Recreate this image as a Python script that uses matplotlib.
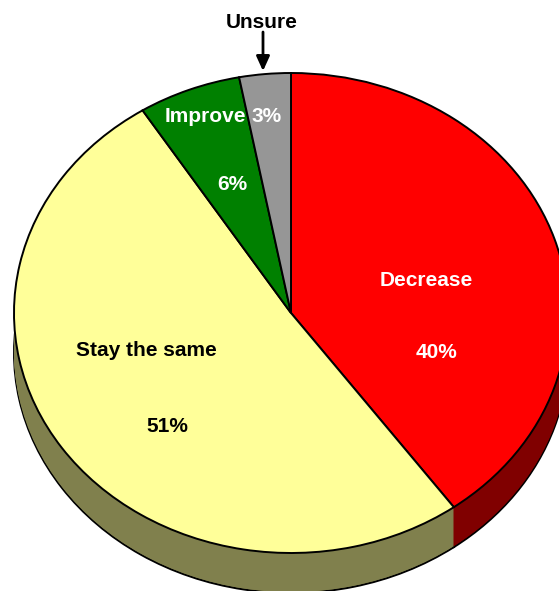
import matplotlib
matplotlib.use("Agg")
import matplotlib.pyplot as plt

labels = ["Decrease", "Stay the same", "Improve", "Unsure"]
values = [40, 51, 6, 3]
pcts = ["40%", "51%", "6%", "3%"]
top_colors = ["#ff0000", "#ffff99", "#008000", "#969696"]
side_colors = ["#800000", "#80804d", "#004000", "#4b4b4b"]

W, H = 559, 591
cx, cy = 291, 313
rx, ry = 277, 240
depth = 40

plt.rcParams['font.family'] = ['Liberation Sans']
fig = plt.figure(figsize=(W / 100, H / 100), dpi=100)
ax = fig.add_axes([0, 0, 1, 1])

# side of the pie, bottom rim first, then stacked slices over it
d = depth / ry
ax.pie(values, colors=side_colors, startangle=90, counterclock=False, radius=1,
       center=(0, -d), wedgeprops={'edgecolor': 'black', 'linewidth': 1.4})
for i in range(depth - 1, -1, -1):
    ax.pie(values, colors=side_colors, startangle=90, counterclock=False, radius=1,
           center=(0, -i / ry), wedgeprops={'linewidth': 0})

# top
ax.pie(values, colors=top_colors, startangle=90, counterclock=False, radius=1,
       center=(0, 0), wedgeprops={'edgecolor': 'black', 'linewidth': 1.4})

ax.set_aspect('auto')
ax.set_xlim(-cx / rx, (W - cx) / rx)
ax.set_ylim(-(H - cy) / ry, cy / ry)
ax.axis('off')

def put(x, y, s, color):
    fig.text(x / W, 1 - y / H, s, color=color, fontsize=15, fontweight='bold',
             ha='center', va='center')

put(426, 281, labels[0], 'white')
put(437, 352, pcts[0], 'white')
put(146, 350, labels[1], 'black')
put(167, 426, pcts[1], 'black')
put(205, 116, labels[2], 'white')
put(232, 184, pcts[2], 'white')
put(262, 22, labels[3], 'black')
put(267, 116, pcts[3], 'white')

# unsure arrow
ax.annotate('', xy=(263 / W, 1 - 71 / H), xytext=(263 / W, 1 - 32 / H),
            xycoords='figure fraction', textcoords='figure fraction',
            arrowprops={'arrowstyle': '-|>,head_length=0.55,head_width=0.25', 'color': 'black',
                        'lw': 2, 'shrinkA': 0, 'shrinkB': 0, 'mutation_scale': 16})

fig.savefig("out.png", dpi=100)
